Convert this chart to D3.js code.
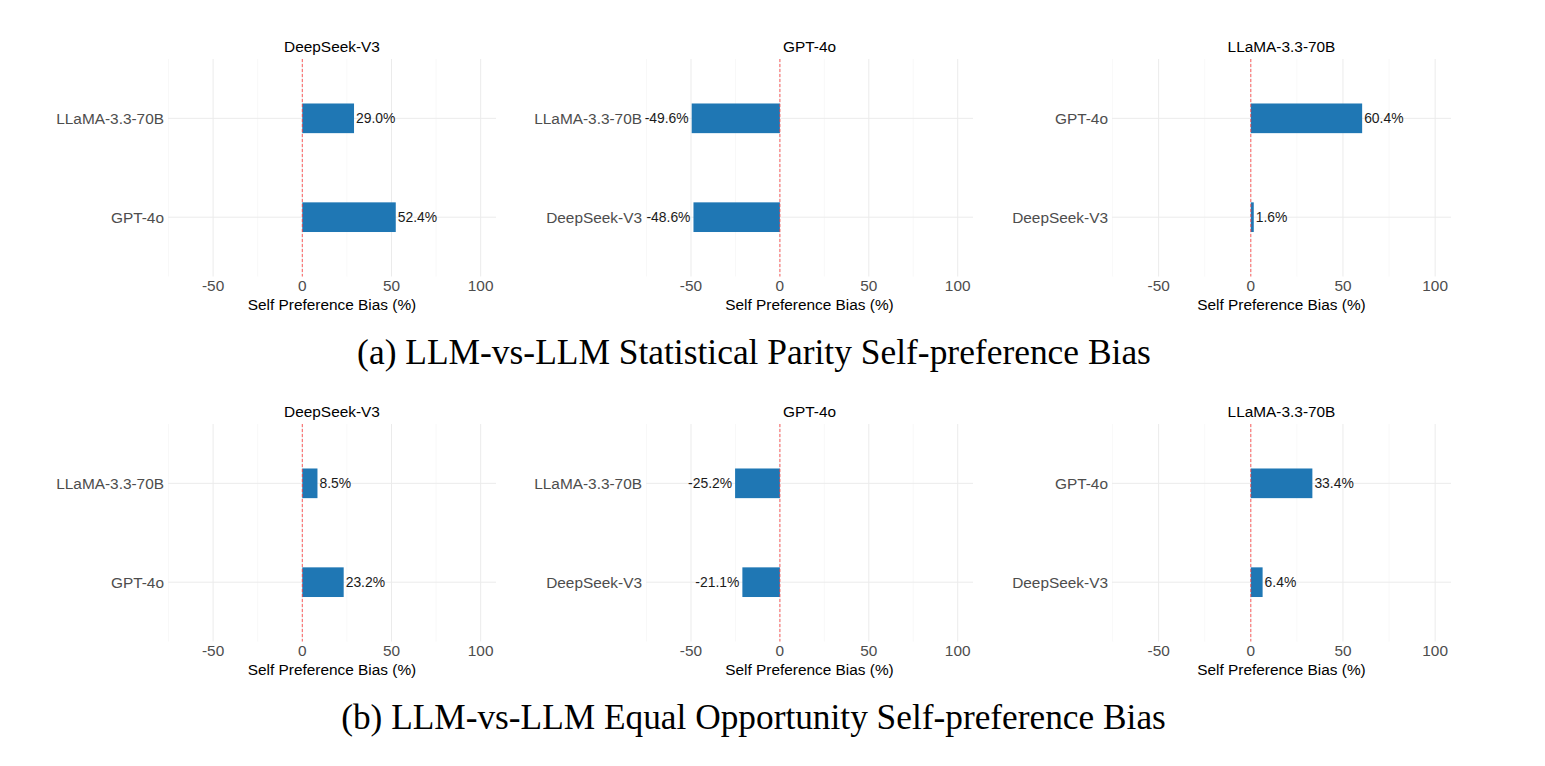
<!DOCTYPE html>
<html>
<head>
<meta charset="utf-8">
<script src="https://cdn.jsdelivr.net/npm/d3@7"></script>
<style>
  html, body { margin: 0; padding: 0; background: #fff; }
  svg { display: block; }
</style>
</head>
<body>
<svg id="chart" width="1545" height="766"></svg>
<script>
// ---------------- data ----------------
const judges = ["DeepSeek-V3", "GPT-4o", "LLaMA-3.3-70B"];
const compared = [
  ["LLaMA-3.3-70B", "GPT-4o"],
  ["LLaMA-3.3-70B", "DeepSeek-V3"],
  ["GPT-4o", "DeepSeek-V3"]
];
const statParityValues = [[29.0, 52.4], [-49.6, -48.6], [60.4, 1.6]];
const equalOppValues   = [[8.5, 23.2], [-25.2, -21.1], [33.4, 6.4]];
const xTicks = [-50, 0, 50, 100];
const xMinorTicks = [-75, -25, 25, 75];
const xDomain = [-75.3, 108.6];
const axisTitle = "Self Preference Bias (%)";
const captions = [
  "(a) LLM-vs-LLM Statistical Parity Self-preference Bias",
  "(b) LLM-vs-LLM Equal Opportunity Self-preference Bias"
];
const rowsData = [statParityValues, equalOppValues];

// ---------------- layout ----------------
const cols = [{ l: 168, r: 496 }, { l: 646, r: 973 }, { l: 1112, r: 1451 }];
const rows = [{ top: 59, bottom: 276.5, capY: 352, capL: 357, capR: 1151 },
              { top: 424, bottom: 641.5, capY: 717, capL: 341, capR: 1166 }];
const sans = "'Liberation Sans', Arial, Helvetica, sans-serif";
const barColor = "#1f77b4";

const svg = d3.select("#chart");

rows.forEach((row, ri) => {
  judges.forEach((judge, ci) => {
    const col = cols[ci];
    const g = svg.append("g");
    const x = d3.scaleLinear().domain(xDomain).range([col.l, col.r]);
    const y = d3.scalePoint().domain(compared[ci]).range([row.top, row.bottom]).padding(0.6);
    const bh = y.step() * 0.3;
    const data = compared[ci].map((c, k) => ({ cat: c, v: rowsData[ri][ci][k] }));

    // minor gridlines
    g.selectAll(".minor").data(xMinorTicks).enter().append("line")
      .attr("x1", d => x(d)).attr("x2", d => x(d))
      .attr("y1", row.top).attr("y2", row.bottom)
      .attr("stroke", "#f3f3f3").attr("stroke-width", 0.6);
    // major vertical gridlines
    g.selectAll(".major").data(xTicks).enter().append("line")
      .attr("x1", d => x(d)).attr("x2", d => x(d))
      .attr("y1", row.top).attr("y2", row.bottom)
      .attr("stroke", "#ebebeb").attr("stroke-width", 1);
    // horizontal gridlines
    g.selectAll(".hgrid").data(compared[ci]).enter().append("line")
      .attr("x1", col.l).attr("x2", col.r)
      .attr("y1", d => y(d)).attr("y2", d => y(d))
      .attr("stroke", "#ebebeb").attr("stroke-width", 1);

    // bars
    g.selectAll(".bar").data(data).enter().append("rect")
      .attr("x", d => Math.min(x(0), x(d.v)))
      .attr("width", d => Math.abs(x(d.v) - x(0)))
      .attr("y", d => y(d.cat) - bh / 2)
      .attr("height", bh)
      .attr("fill", barColor);

    // zero reference line
    g.append("line")
      .attr("x1", x(0)).attr("x2", x(0))
      .attr("y1", row.top).attr("y2", row.bottom)
      .attr("stroke", "#ff3030").attr("stroke-opacity", 0.85)
      .attr("stroke-width", 0.9).attr("stroke-dasharray", "3,2");

    // bar value labels
    g.selectAll(".lbl").data(data).enter().append("text")
      .attr("x", d => x(d.v) + (d.v >= 0 ? 2 : -3))
      .attr("y", d => y(d.cat))
      .attr("dy", "0.35em")
      .attr("text-anchor", d => d.v >= 0 ? "start" : "end")
      .attr("font-family", sans).attr("font-size", 13.9)
      .attr("fill", "#1a1a1a")
      .text(d => d.v.toFixed(1) + "%");

    // y axis labels
    g.selectAll(".ylab").data(compared[ci]).enter().append("text")
      .attr("x", col.l - 4).attr("y", d => y(d)).attr("dy", "0.35em")
      .attr("text-anchor", "end")
      .attr("font-family", sans).attr("font-size", 15.4)
      .attr("fill", "#4d4d4d")
      .text(d => d);

    // x tick labels
    g.selectAll(".xlab").data(xTicks).enter().append("text")
      .attr("x", d => x(d)).attr("y", row.bottom + 9).attr("dy", "0.35em")
      .attr("text-anchor", "middle")
      .attr("font-family", sans).attr("font-size", 15.4)
      .attr("fill", "#4d4d4d")
      .text(d => d);

    // axis title
    g.append("text")
      .attr("x", (col.l + col.r) / 2).attr("y", row.bottom + 28).attr("dy", "0.35em")
      .attr("text-anchor", "middle")
      .attr("font-family", sans).attr("font-size", 15.4)
      .attr("fill", "#000")
      .text(axisTitle);

    // facet title
    g.append("text")
      .attr("x", (col.l + col.r) / 2).attr("y", row.top - 12).attr("dy", "0.35em")
      .attr("text-anchor", "middle")
      .attr("font-family", sans).attr("font-size", 15.4)
      .attr("fill", "#000")
      .text(judge);
  });

  // caption
  const cap = svg.append("text")
    .attr("x", (row.capL + row.capR) / 2).attr("y", row.capY).attr("dy", "0.35em")
    .attr("text-anchor", "middle")
    .attr("font-family", "'Liberation Serif', 'Times New Roman', serif")
    .attr("font-size", 30)
    .attr("fill", "#000")
    .text(captions[ri]);
  const w = cap.node().getComputedTextLength();
  const target = row.capR - row.capL;
  cap.attr("font-size", 30 * target / w);
});
</script>
</body>
</html>
